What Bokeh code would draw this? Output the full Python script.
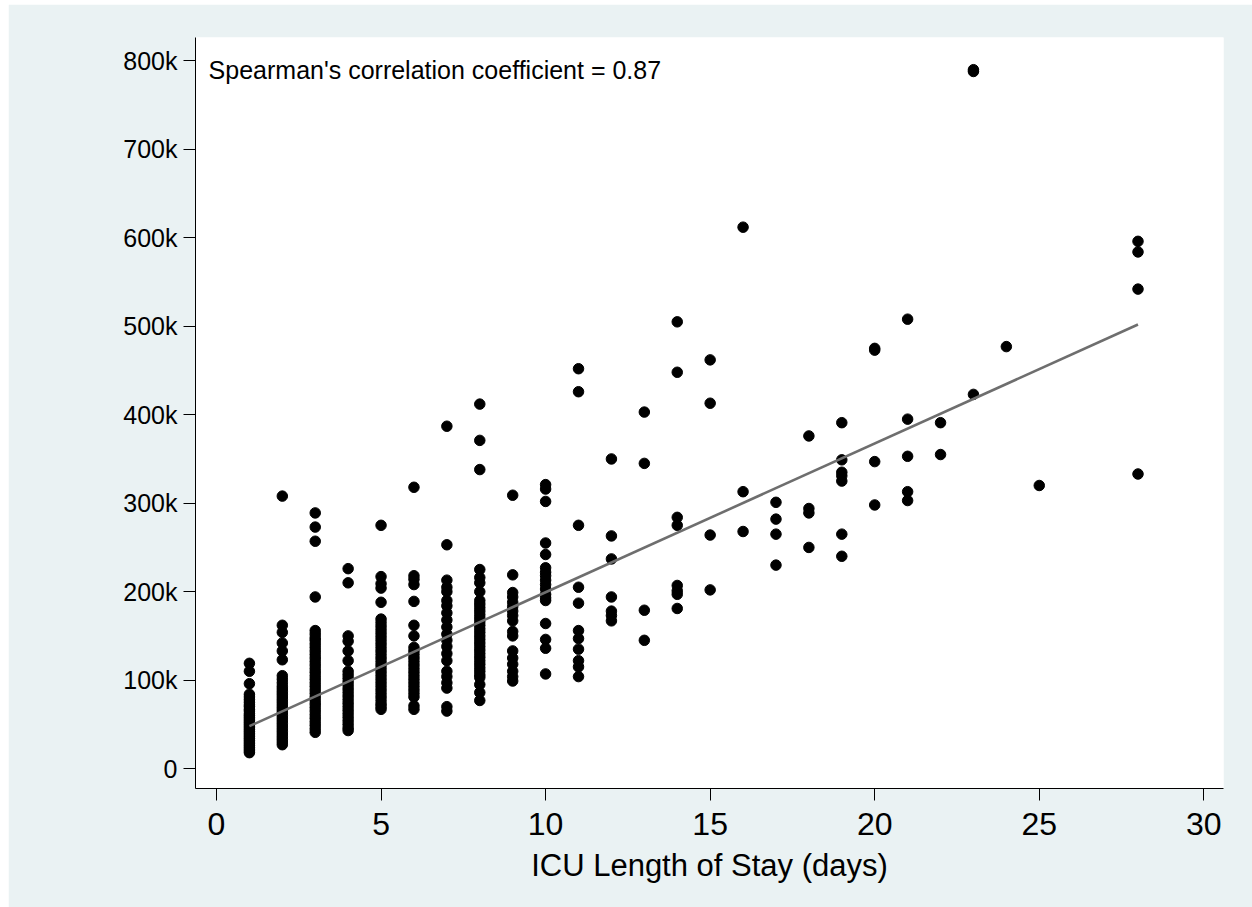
from bokeh.plotting import figure
from bokeh.models import Range1d, FixedTicker
from bokeh.core.properties import value
from bokeh.embed import file_html
from bokeh.resources import INLINE

# ICU total cost (thousands) by length of stay in days
cost_d1 = [119, 110, 96, 84, 81, 78, 75, 72, 70, 67, 65, 62, 60, 58, 56, 54, 52, 50, 48,
           46, 44, 42, 40, 38, 36, 34, 32, 30, 28, 26, 24, 22, 20, 18]
cost_d2 = [308, 162, 154, 142, 133, 123, 105, 101, 97, 93, 90, 87, 84, 81, 78, 75, 72, 69,
           66, 63, 60, 57, 54, 51, 48, 45, 42, 39, 36, 33, 30, 27]
cost_d3 = [289, 273, 257, 194, 156, 152, 148, 145, 141, 137, 133, 129, 125, 121, 117, 113,
           109, 105, 101, 97, 93, 89, 85, 81, 77, 73, 69, 65, 61, 57, 53, 49, 45, 41]
cost_d4 = [226, 210, 150, 144, 133, 122, 110, 106, 102, 98, 94, 90, 86, 82, 78, 74, 70, 66,
           62, 58, 54, 50, 46, 43]
cost_d5 = [275, 217, 209, 204, 188, 169, 165, 161, 157, 153, 149, 145, 141, 137, 133, 129,
           125, 121, 117, 113, 109, 105, 101, 97, 93, 89, 85, 81, 77, 73, 70, 67]
cost_d6 = [318, 218, 214, 208, 189, 162, 150, 137, 133, 129, 125, 121, 117, 113, 109, 105,
           101, 97, 93, 89, 85, 81, 71, 67]
cost_d7 = [387, 253, 213, 205, 200, 190, 184, 176, 168, 160, 152, 145, 138, 130, 122, 110,
           104, 97, 91, 70, 65]
cost_d8 = [412, 371, 338, 225, 216, 210, 200, 190, 186, 182, 178, 174, 170, 166, 162, 158,
           154, 150, 146, 142, 138, 134, 130, 126, 122, 118, 114, 110, 106, 103, 95, 86, 77]
cost_d9 = [309, 219, 199, 194, 188, 183, 178, 173, 167, 155, 150, 133, 125, 118, 110, 104, 99]
cost_d10 = [321, 316, 302, 255, 242, 227, 222, 218, 213, 208, 203, 197, 193, 190, 164, 146,
            136, 107]
cost_d11 = [452, 426, 275, 205, 187, 156, 147, 135, 122, 115, 104]
cost_d12 = [350, 263, 237, 194, 178, 173, 167]
cost_d13 = [403, 345, 179, 145]
cost_d14 = [505, 448, 284, 275, 207, 201, 197, 181]
cost_d15 = [462, 413, 264, 202]
cost_d16 = [612, 313, 268]
cost_d17 = [301, 282, 265, 230]
cost_d18 = [376, 294, 289, 250]
cost_d19 = [391, 349, 335, 331, 325, 265, 240]
cost_d20 = [475, 473, 347, 298]
cost_d21 = [508, 395, 353, 313, 303]
cost_d22 = [391, 355]
cost_d23 = [790, 788, 423]
cost_d24 = [477]
cost_d25 = [320]
cost_d28 = [596, 584, 542, 333]

stay_groups = [
    (1, cost_d1), (2, cost_d2), (3, cost_d3), (4, cost_d4), (5, cost_d5), (6, cost_d6),
    (7, cost_d7), (8, cost_d8), (9, cost_d9), (10, cost_d10), (11, cost_d11),
    (12, cost_d12), (13, cost_d13), (14, cost_d14), (15, cost_d15), (16, cost_d16),
    (17, cost_d17), (18, cost_d18), (19, cost_d19), (20, cost_d20), (21, cost_d21),
    (22, cost_d22), (23, cost_d23), (24, cost_d24), (25, cost_d25), (28, cost_d28),
]

# Linear fit endpoints
fit_days = [1, 28]
fit_cost = [48000, 502000]

x_ticks = [0, 5, 10, 15, 20, 25, 30]
y_ticks = [0, 100000, 200000, 300000, 400000, 500000, 600000, 700000, 800000]
y_tick_labels = ["0", "100k", "200k", "300k", "400k", "500k", "600k", "700k", "800k"]

annotation = "Spearman's correlation coefficient = 0.87"
x_title = "ICU Length of Stay (days)"

days = []
costs = []
for d, vals in stay_groups:
    for v in vals:
        days.append(d)
        costs.append(v * 1000)

FONT = "Liberation Sans"
BG = "#EAF2F3"

p = figure(width=1244, height=903, output_backend="svg", toolbar_location=None,
           x_range=Range1d(-0.638, 30.598), y_range=Range1d(-22500, 826400),
           min_border_left=187, min_border_right=29, min_border_top=33,
           min_border_bottom=119)
p.margin = (4, 0, 0, 8)
p.border_fill_color = BG
p.background_fill_color = "white"
p.outline_line_color = None
p.xgrid.grid_line_color = None
p.ygrid.grid_line_color = None

p.scatter(days, costs, size=10.5, color="black", line_color="black")
p.line(fit_days, fit_cost, line_color="#6e6e6e", line_width=2.6)

p.text(x=[-0.24], y=[790000], text=[annotation], text_font=value(FONT),
       text_font_size="25px", text_color="black", text_baseline="alphabetic",
       text_align="left")

xa = p.xaxis[0]
xa.ticker = FixedTicker(ticks=x_ticks)
xa.axis_label = x_title
xa.axis_label_text_font = FONT
xa.axis_label_text_font_style = "normal"
xa.axis_label_text_font_size = "31px"
xa.axis_label_text_color = "black"
xa.axis_label_standoff = 10
xa.major_label_text_font = FONT
xa.major_label_text_font_size = "32px"
xa.major_label_text_color = "black"
xa.major_label_standoff = 12
xa.major_tick_in = 0
xa.major_tick_out = 12
xa.minor_tick_in = 0
xa.minor_tick_out = 0
xa.axis_line_color = "black"
xa.major_tick_line_color = "black"

ya = p.yaxis[0]
ya.ticker = FixedTicker(ticks=y_ticks)
ya.major_label_overrides = {t: s for t, s in zip(y_ticks, y_tick_labels)}
ya.major_label_text_font = FONT
ya.major_label_text_font_size = "25px"
ya.major_label_text_color = "black"
ya.major_label_standoff = 6
ya.major_label_orientation = "horizontal"
ya.major_tick_in = 0
ya.major_tick_out = 12
ya.minor_tick_in = 0
ya.minor_tick_out = 0
ya.axis_line_color = "black"
ya.major_tick_line_color = "black"

open("out.html", "w").write(file_html(p, INLINE))
